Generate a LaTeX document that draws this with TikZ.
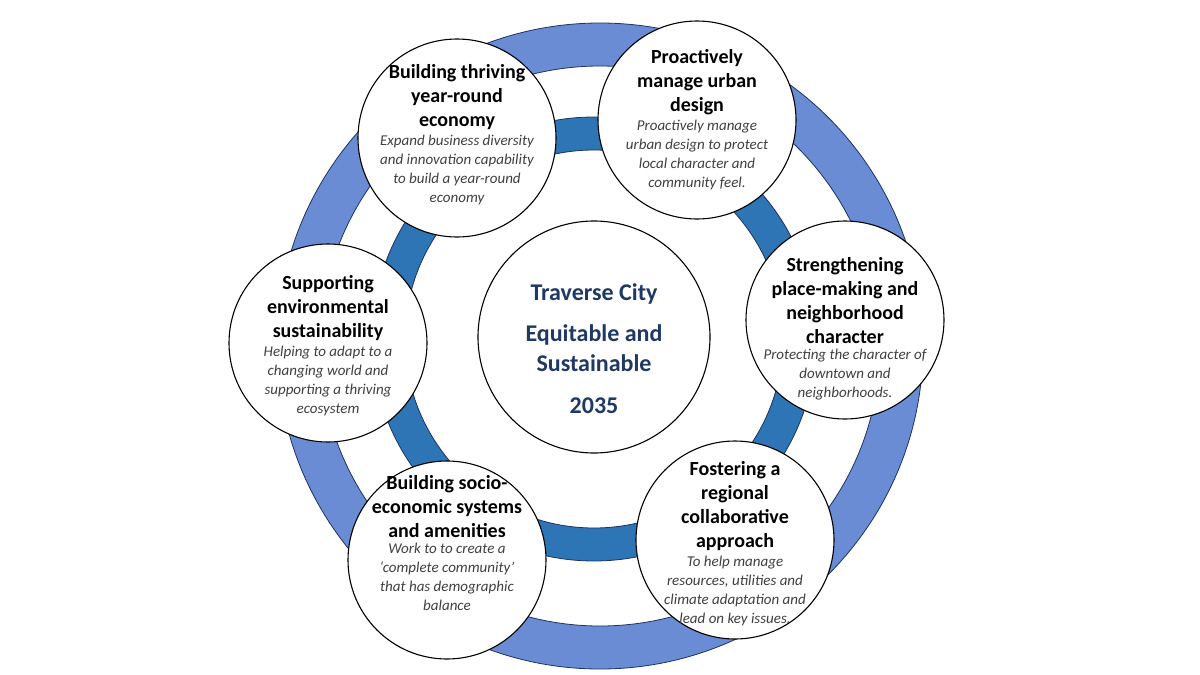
\documentclass[tikz,border=0pt]{standalone}
\usepackage{fontspec}
\setmainfont{Carlito}
\usepackage{tikz}
\usetikzlibrary{positioning}
\definecolor{ringlight}{RGB}{106,140,212}
\definecolor{ringdark}{RGB}{46,117,182}
\definecolor{ringline}{RGB}{31,50,96}
\definecolor{citynavy}{RGB}{31,56,100}
\definecolor{descgray}{RGB}{64,64,64}
\tikzset{
	basic/.style  = {draw, circle, inner sep=0pt, fill=white, line width=1.1pt},
	hub/.style    = {basic, minimum size=232pt},
	goal/.style   = {basic, minimum size=198pt},
	goaltitle/.style = {align=center, inner sep=0pt,
		font=\bfseries\fontsize{20}{24}\selectfont},
	goaldesc/.style  = {align=center, inner sep=0pt, text=descgray,
		font=\itshape\fontsize{15}{19}\selectfont},
	band/.style   = {draw=ringline, line width=0.8pt, even odd rule}
}

\begin{document}
\begin{tikzpicture}[x=1pt, y=-1pt, node distance=5pt]
\useasboundingbox (0,0) rectangle (1200,675);

% the two rings behind the circles
\coordinate (outer) at (600,346);
\coordinate (inner) at (594,339);
\filldraw[band, fill=ringlight] (outer) circle (323pt) (outer) circle (280pt);
\filldraw[band, fill=ringdark] (inner) circle (222pt) (inner) circle (189pt);

% centre of the wheel
\node[hub] (c0) at (594,337) {};
\node[align=center, inner sep=0pt, text=citynavy,
	font=\bfseries\fontsize{24}{30}\selectfont] (vision) at (594,349)
	{Traverse City\\[11pt]Equitable and\\Sustainable\\[12pt]2035};

% the six goals round it
\node[goal] (c1) at (457,138) {};
\node[goaltitle, anchor=north] (t1) at (457,64) {Building thriving\\year-round\\economy};
\node[goaldesc, below=5pt of t1] (d1) {Expand business diversity\\and innovation capability\\to build a year-round\\economy};

\node[goal] (c2) at (697,120) {};
\node[goaltitle, anchor=north] (t2) at (697,49) {Proactively\\manage urban\\design};
\node[goaldesc, below=5pt of t2] (d2) {Proactively manage\\urban design to protect\\local character and\\community feel.};

\node[goal] (c3) at (845,320) {};
\node[goaltitle, anchor=north] (t3) at (845,257) {Strengthening\\place-making and\\neighborhood\\character};
\node[goaldesc, below=5pt of t3] (d3) {Protecting the character of\\downtown and\\neighborhoods.};

\node[goal] (c4) at (735,540) {};
\node[goaltitle, anchor=north] (t4) at (735,461) {Fostering a\\regional\\collaborative\\approach};
\node[goaldesc, below=5pt of t4] (d4) {To help manage\\resources, utilities and\\climate adaptation and\\lead on key issues.};

\node[goal] (c5) at (447,560) {};
\node[goaltitle, anchor=north] (t5) at (447,475) {Building socio-\\economic systems\\and amenities};
\node[goaldesc, below=5pt of t5] (d5) {Work to to create a\\`complete community'\\that has demographic\\balance};

\node[goal] (c6) at (328,343) {};
\node[goaltitle, anchor=north] (t6) at (328,275) {Supporting\\environmental\\sustainability};
\node[goaldesc, below=5pt of t6] (d6) {Helping to adapt to a\\changing world and\\supporting a thriving\\ecosystem};

\end{tikzpicture}
\end{document}
